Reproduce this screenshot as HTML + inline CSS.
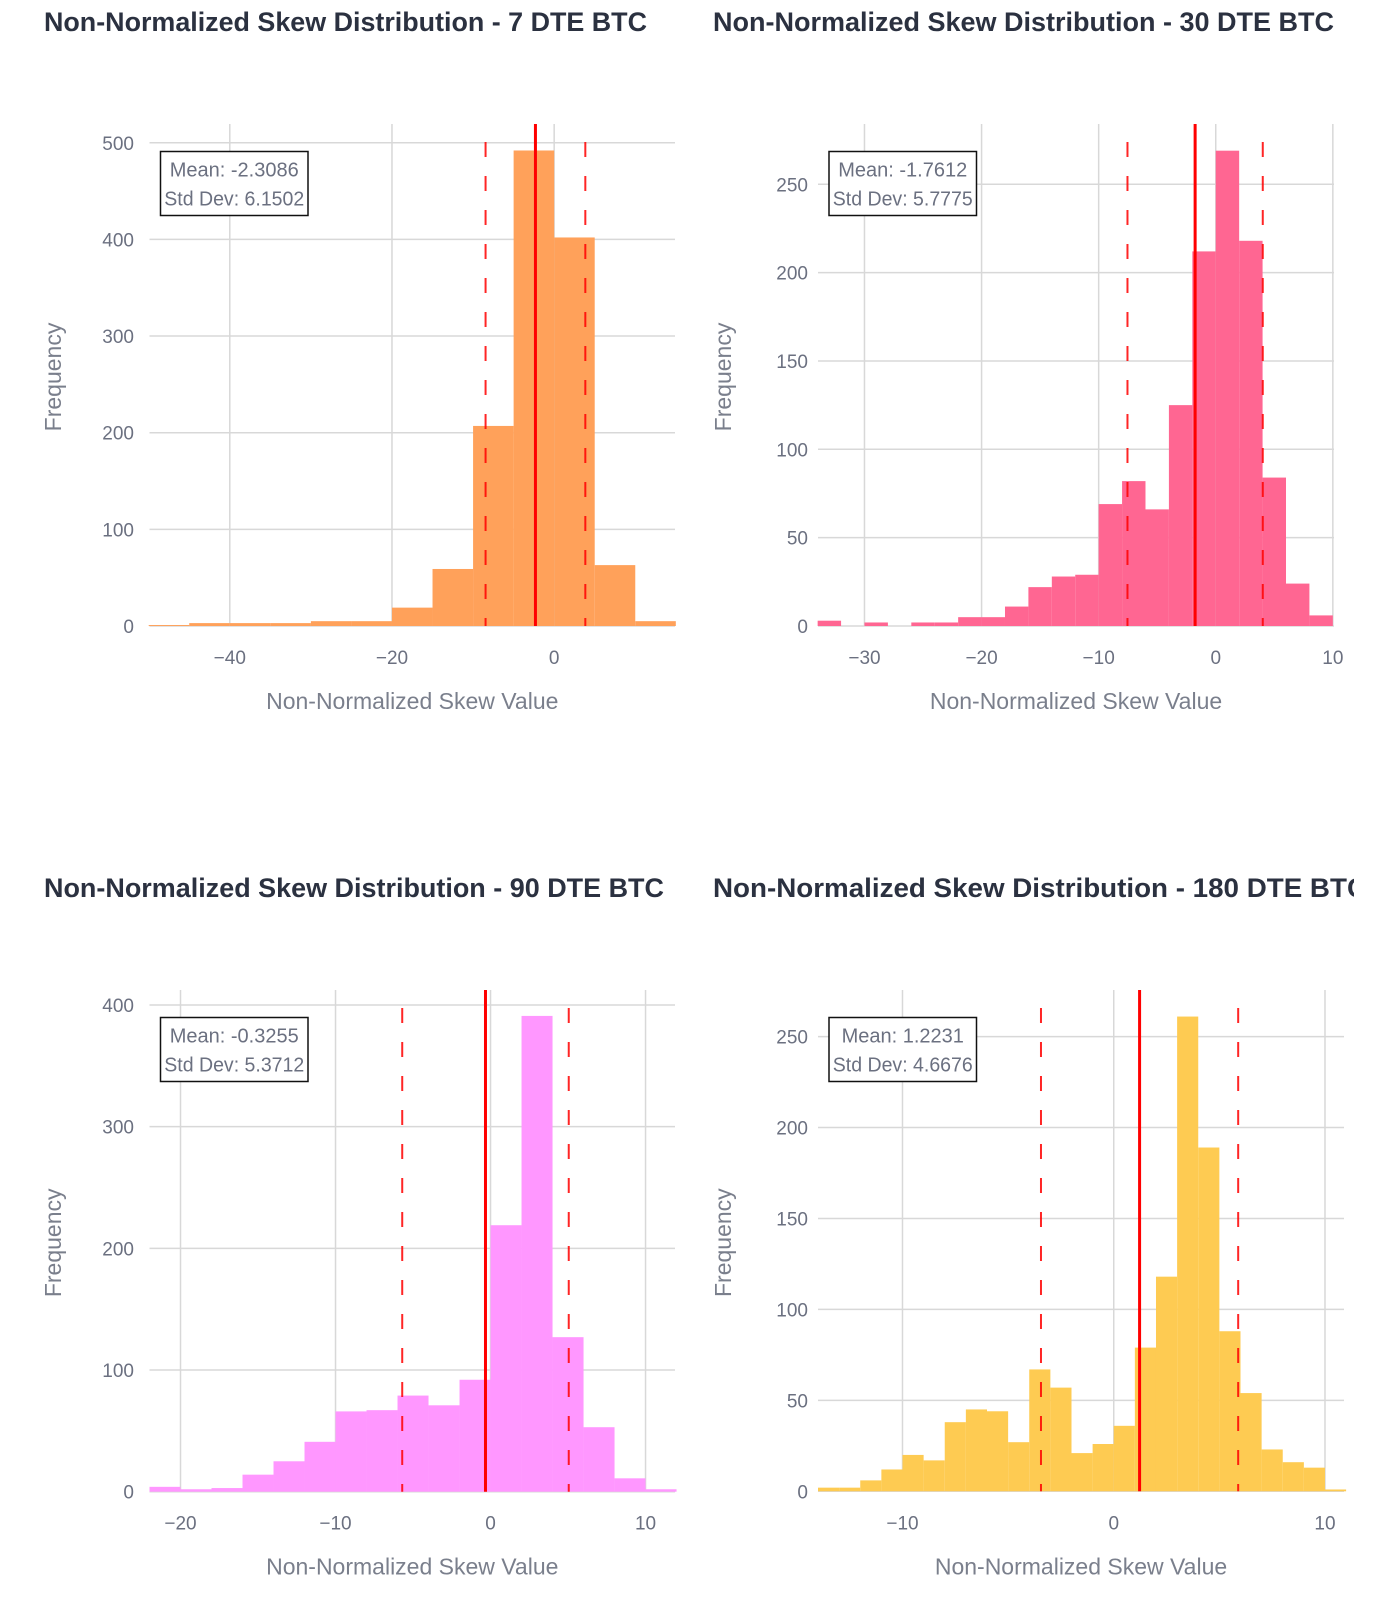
<!DOCTYPE html>
<html><head><meta charset="utf-8"><style>
html,body{margin:0;padding:0;background:#fff;}
svg{display:block;font-family:"Liberation Sans",sans-serif;}
</style></head><body>
<svg id="root" xmlns="http://www.w3.org/2000/svg" width="1399" height="1600" viewBox="0 0 1399 1600"></svg>
<script>
// ---- Chart data (top-level arrays) ----
const titles = ["Non-Normalized Skew Distribution - 7 DTE BTC","Non-Normalized Skew Distribution - 30 DTE BTC","Non-Normalized Skew Distribution - 90 DTE BTC","Non-Normalized Skew Distribution - 180 DTE BTC"];
const binStarts = [-50, -34, -22, -14];
const binWidths = [5, 2, 2, 1];
const counts7 = [1,3,3,3,5,5,19,59,207,492,402,63,5];
const counts30 = [3,0,2,0,2,2,5,5,11,22,28,29,69,82,66,125,212,269,218,84,24,6];
const counts90 = [4,2,3,14,25,41,66,67,79,71,92,219,391,127,53,11,2];
const counts180 = [2,2,6,12,20,17,38,45,44,27,67,57,21,26,36,79,118,261,189,88,54,23,16,13,1];
const means = [-2.3086, -1.7612, -0.3255, 1.2231];
const stds = [6.1502, 5.7775, 5.3712, 4.6676];
const xTicks7 = [-40,-20,0];
const xTicks30 = [-30,-20,-10,0,10];
const xTicks90 = [-20,-10,0,10];
const xTicks180 = [-10,0,10];
const yTicks7 = [0,100,200,300,400,500];
const yTicks30 = [0,50,100,150,200,250];
const yTicks90 = [0,100,200,300,400];
const yTicks180 = [0,50,100,150,200,250];
const xRanges = [[-49.9,14.9],[-33.97,10.1],[-22,11.9],[-14,10.9]];
const yMaxes = [519.4, 284.1, 412.3, 275.6];
const colors = ["#FFA15A","#FF6692","#FF97FF","#FECB52"];

const allCounts = [counts7, counts30, counts90, counts180];
const allXTicks = [xTicks7, xTicks30, xTicks90, xTicks180];
const allYTicks = [yTicks7, yTicks30, yTicks90, yTicks180];
const keys = ["7dte","30dte","90dte","180dte"];

const NS = "http://www.w3.org/2000/svg";
const root = document.getElementById('root');
function mk(tag, attrs, parent){
  const e = document.createElementNS(NS, tag);
  for (const k in attrs) e.setAttribute(k, attrs[k]);
  (parent||root).appendChild(e);
  return e;
}
const fmt = v => (v<0 ? "\u2212"+Math.abs(v) : ""+v);

// layout (pixel geometry, not data)
const panels = [
  {L:149.5, R:675, T:124, B:626, titleX:44, titleY:31, ylabX:53, tickR:134},
  {L:818, R:1334, T:124, B:626, titleX:713, titleY:31, ylabX:723, tickR:808},
  {L:149.5, R:675, T:990, B:1491.7, titleX:44, titleY:897, ylabX:53, tickR:134},
  {L:818, R:1344, T:990, B:1491.3, titleX:713, titleY:897, ylabX:723, tickR:808}
];
const titleW = [603, 621, 620, 654];

const defs = mk('defs', {});
const cp = mk('clipPath', {id:'titleclip'}, defs);
mk('rect', {x:0, y:0, width:1354, height:1600}, cp);

for (let i=0;i<4;i++){
  const P = panels[i];
  const key = keys[i];
  const g = mk('g', {});
  
  
  const xr = xRanges[i];
  const xs = v => P.L + (v - xr[0]) / (xr[1]-xr[0]) * (P.R - P.L);
  const ys = v => P.B - v / yMaxes[i] * (P.B - P.T);

  const t = mk('text', {x:P.titleX, y:P.titleY, 'font-size':27, 'font-weight':'bold', fill:'#2b3140', textLength:titleW[i], lengthAdjust:'spacingAndGlyphs', 'clip-path':'url(#titleclip)'}, g);
  t.textContent = titles[i];
  
  

  allYTicks[i].forEach(v=>{
    const y = ys(v);
    const gl = mk('line', {x1:P.L, x2:P.R, y1:y, y2:y, stroke:'#d8d8d8', 'stroke-width':1.5}, g);
    
    
    const tl = mk('text', {x:P.tickR, y:y+7, 'font-size':19, fill:'#6b7080', 'text-anchor':'end'}, g);
    tl.textContent = fmt(v);
    
    
  });
  allXTicks[i].forEach(v=>{
    const x = xs(v);
    const gl = mk('line', {x1:x, x2:x, y1:P.T, y2:P.B, stroke:'#d8d8d8', 'stroke-width':1.5}, g);
    
    
    const tl = mk('text', {x:x, y:P.B+38, 'font-size':19, fill:'#6b7080', 'text-anchor':'middle'}, g);
    tl.textContent = fmt(v);
    
    
  });

  const cs = allCounts[i];
  for (let b=0;b<cs.length;b++){
    if (cs[b] <= 0) continue;
    const x0 = xs(binStarts[i] + b*binWidths[i]);
    const x1 = xs(binStarts[i] + (b+1)*binWidths[i]);
    const y = ys(cs[b]);
    const r = mk('rect', {x:x0, y:y, width:x1-x0, height:P.B-y, fill:colors[i]}, g);
    
    
  }

  const mx = xs(means[i]);
  const ml = mk('line', {x1:mx, x2:mx, y1:P.T, y2:P.B, stroke:'#ff0000', 'stroke-width':3}, g);
  
  
  [means[i]-stds[i], means[i]+stds[i]].forEach(v=>{
    const x = xs(v);
    const dl = mk('line', {x1:x, x2:x, y1:P.T+18, y2:P.B, stroke:'#ff0000', 'stroke-width':2, 'stroke-dasharray':'15,19', opacity:0.85}, g);
    
    
  });

  const bx = P.L + 11, by = P.T + 27.5, bw = 147.5, bh = 64;
  const ag = mk('g', {}, g);
  
  
  mk('rect', {x:bx, y:by, width:bw, height:bh, fill:'#fff', stroke:'#111', 'stroke-width':1.5}, ag);
  const l1 = mk('text', {x:bx+bw/2, y:by+25, 'font-size':20, fill:'#6b7080', 'text-anchor':'middle'}, ag);
  l1.textContent = 'Mean: ' + means[i].toFixed(4);
  const l2 = mk('text', {x:bx+bw/2, y:by+54, 'font-size':20, fill:'#6b7080', 'text-anchor':'middle', textLength:140, lengthAdjust:'spacingAndGlyphs'}, ag);
  l2.textContent = 'Std Dev: ' + stds[i].toFixed(4);

  const xt = mk('text', {x:(P.L+P.R)/2, y:P.B+83, 'font-size':23, fill:'#7a7f8c', 'text-anchor':'middle'}, g);
  xt.textContent = 'Non-Normalized Skew Value';
  
  
  const cy = (P.T+P.B)/2 + 2;
  const yt = mk('text', {x:P.ylabX, y:cy, 'font-size':23, fill:'#7a7f8c', 'text-anchor':'middle', transform:'rotate(-90 '+P.ylabX+' '+cy+')', dy:8}, g);
  yt.textContent = 'Frequency';
  
  
}
</script>
</body></html>
